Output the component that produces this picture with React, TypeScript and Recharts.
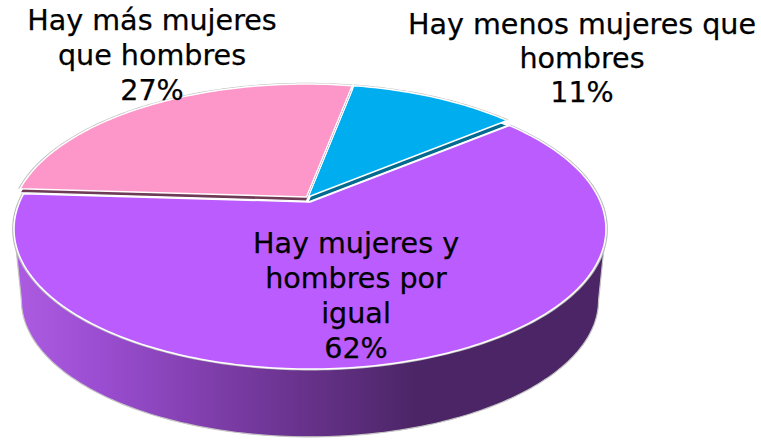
import { PieChart, Pie, Cell } from 'recharts';

const categories = ['Hay mujeres y hombres por igual', 'Hay menos mujeres que hombres', 'Hay más mujeres que hombres'];
const shares = [62, 11, 27];
const tableData = categories.map((name, i) => ({ name, value: shares[i] }));

const FONT = '"DejaVu Sans", sans-serif';
const TILT_B = 134.8;
const PERSPECTIVE = 0.193;
// angle past 180 where the tilted rim reaches its widest point
const SILHOUETTE = (Math.asin(PERSPECTIVE) * 180) / Math.PI;

const sliceLooks = [
  { face: '#bb5cff', wall: 'url(#sideWall)', dx: 0, dy: 0, depth: 72, shrink: 0.975 },
  { face: '#00aeef', wall: '#006a8f', dx: -2, dy: -5, depth: 5, shrink: 1 },
  { face: '#fd97c9', wall: '#6e3a55', dx: -3.5, dy: -5, depth: 4, shrink: 1 },
];

const labelLayout = [
  { x: 356, y: 253, gap: 35, lines: ['Hay mujeres y', 'hombres por', 'igual'] },
  { x: 582, y: 34, gap: 34.2, lines: ['Hay menos mujeres que', 'hombres'] },
  { x: 152, y: 30, gap: 35, lines: ['Hay más mujeres', 'que hombres'] },
];

const project = (deg: number, cx: number, cy: number, a: number, scale = 1) => {
  const t = (deg * Math.PI) / 180;
  const w = 1 + PERSPECTIVE * Math.sin(t);
  return [cx + (scale * a * Math.cos(t)) / w, cy - (scale * TILT_B * Math.sin(t)) / w];
};

const arc = (from: number, to: number, cx: number, cy: number, a: number, scale = 1) => {
  const pts: string[] = [];
  const n = Math.ceil(Math.abs(to - from));
  for (let i = 0; i <= n; i++) {
    const p = project(from + ((to - from) * i) / n, cx, cy, a, scale);
    pts.push(`${p[0].toFixed(2)} ${p[1].toFixed(2)}`);
  }
  return pts;
};

const renderSlice = (props: any) => {
  const { cx, cy, outerRadius, startAngle, endAngle, index } = props;
  const look = sliceLooks[index];
  const x = cx + look.dx;
  const y = cy + look.dy;
  const top = arc(startAngle, endAngle, x, y, outerRadius);
  let wallPath;
  if (look.depth > 10) {
    const from = 180 + SILHOUETTE;
    const to = 360 - SILHOUETTE;
    const upper = arc(from, to, x, y, outerRadius);
    const lower = arc(to, from, x, y + look.depth, outerRadius, look.shrink);
    wallPath = `M${upper.join('L')}L${lower.join('L')}Z`;
  } else {
    wallPath = `M${x} ${y + look.depth}L${arc(startAngle, endAngle, x, y + look.depth, outerRadius).join('L')}Z`;
  }
  return (
    <g>
      <path d={wallPath} fill={look.wall} stroke={look.depth > 10 ? '#c4c4c4' : '#ffffff'} strokeWidth={1.2} />
      <path d={`M${arc(startAngle, endAngle, x, y, outerRadius, 1.004).join('L')}`} fill="none" stroke="#bdbdbd" strokeWidth={1.5} />
      <path d={`M${x} ${y}L${top.join('L')}Z`} fill={look.face} stroke="#ffffff" strokeWidth={1.5} strokeLinejoin="round" />
    </g>
  );
};

const renderLabel = (props: any) => {
  const { index, percent } = props;
  const spot = labelLayout[index];
  const lines = [...spot.lines, `${Math.round(percent * 100)}%`];
  return (
    <text key={index} textAnchor="middle" fontFamily={FONT} fontSize={28.6} fill="#000000" stroke="#000000" strokeWidth={0.25}>
      {lines.map((line, i) => (
        <tspan key={line} x={spot.x} y={spot.y + i * spot.gap}>{line}</tspan>
      ))}
    </text>
  );
};

export default function App() {
  return (
    <div style={{ position: 'absolute', left: 0, top: 0, width: 761, height: 440 }}>
      <PieChart width={761} height={440} margin={{ top: 0, right: 0, bottom: 0, left: 0 }}>
        <defs>
          <linearGradient id="sideWall" gradientUnits="userSpaceOnUse" x1="14" y1="0" x2="607" y2="0">
            <stop offset="0" stopColor="#ad5ce2" />
            <stop offset="0.15" stopColor="#9a4dd0" />
            <stop offset="0.42" stopColor="#723799" />
            <stop offset="0.68" stopColor="#4b2566" />
            <stop offset="1" stopColor="#4b2566" />
          </linearGradient>
        </defs>
        <Pie
          data={tableData}
          dataKey="value"
          nameKey="name"
          cx={310}
          cy={202}
          innerRadius={0}
          outerRadius={290.4}
          startAngle={176.4}
          endAngle={536.4}
          paddingAngle={0}
          stroke="none"
          shape={renderSlice}
          label={renderLabel}
          labelLine={false}
          isAnimationActive={false}
        >
          {tableData.map((d) => (
            <Cell key={d.name} />
          ))}
        </Pie>
      </PieChart>
    </div>
  );
}
